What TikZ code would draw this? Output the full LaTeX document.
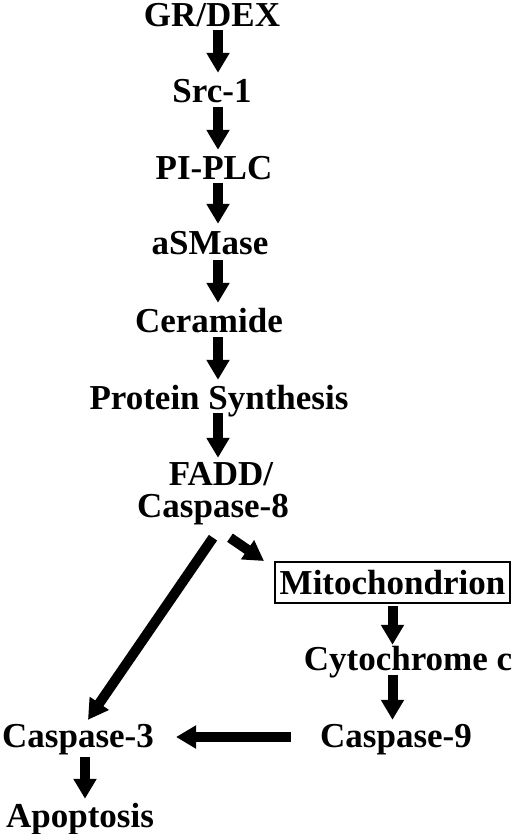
\documentclass[tikz,border=0pt]{standalone}
\usepackage{fontspec}
\setmainfont{Liberation Serif}
\usetikzlibrary{arrows.meta}
\begin{document}
\begin{tikzpicture}[x=1pt,y=-1pt,
  lbl/.style={inner sep=0pt, text height=23pt, text depth=0pt, font=\fontsize{35}{40}\selectfont\bfseries},
  arr/.style={line width=10pt, -{Triangle[width=22pt,length=20pt]}},
  boxed/.style={lbl, draw, line width=2pt, minimum width=235pt, minimum height=41pt}]
\useasboundingbox (0,0) rectangle (520,834);
\coordinate (ax) at (218,0);
\node[lbl] (gr) at (212,15.5) {GR/DEX};
\node[lbl] (src) at (212,91.5) {Src-1};
\node[lbl] (pi) at (214,168.5) {PI-PLC};
\node[lbl] (as) at (210,242.5) {aSMase};
\node[lbl] (cer) at (209,320.5) {Ceramide};
\node[lbl] (ps) at (219,397.5) {Protein Synthesis};
\node[lbl] (fadd) at (221,473.5) {FADD/};
\node[lbl] (c8) at (213,506) {Caspase-8};
\node[boxed] (mito) at (392.5,582.5) {Mitochondrion};
\node[lbl] (cyto) at (408,658.5) {Cytochrome c};
\node[lbl] (c9) at (396,735.5) {Caspase-9};
\node[lbl] (c3) at (78,735.5) {Caspase-3};
\node[lbl] (apo) at (80,815.5) {Apoptosis};
\draw[arr] ([yshift=-3pt]gr.south -| ax) -- ([yshift=7pt]src.north -| ax);
\draw[arr] ([yshift=-4pt]src.south -| ax) -- ([yshift=7pt]pi.north -| ax);
\draw[arr] ([yshift=-3pt]pi.south -| ax) -- ([yshift=7pt]as.north -| ax);
\draw[arr] ([yshift=-6pt]as.south -| ax) -- ([yshift=6pt]cer.north -| ax);
\draw[arr] ([yshift=-5pt]cer.south -| ax) -- ([yshift=6pt]ps.north -| ax);
\draw[arr] ([yshift=-4pt]ps.south -| ax) -- ([yshift=4pt]fadd.north -| ax);
\draw[arr] ([yshift=-20pt]c8.south) -- ([xshift=10pt,yshift=4pt]c3.north);
\draw[arr] ([xshift=17pt,yshift=-20pt]c8.south) -- ([xshift=-10pt]mito.north west);
\draw[arr] ([yshift=-2pt]mito.south) -- ([yshift=2pt]cyto.north -| mito);
\draw[arr] ([yshift=-5pt]cyto.south -| mito) -- ([yshift=4pt]c9.north -| mito);
\draw[arr] ([xshift=-29pt,yshift=-1.5pt]c9.west) -- ([xshift=22pt,yshift=-1.5pt]c3.east);
\draw[arr] ([yshift=-10pt,xshift=7pt]c3.south) -- ([yshift=5pt,xshift=5pt]apo.north);
\end{tikzpicture}
\end{document}
